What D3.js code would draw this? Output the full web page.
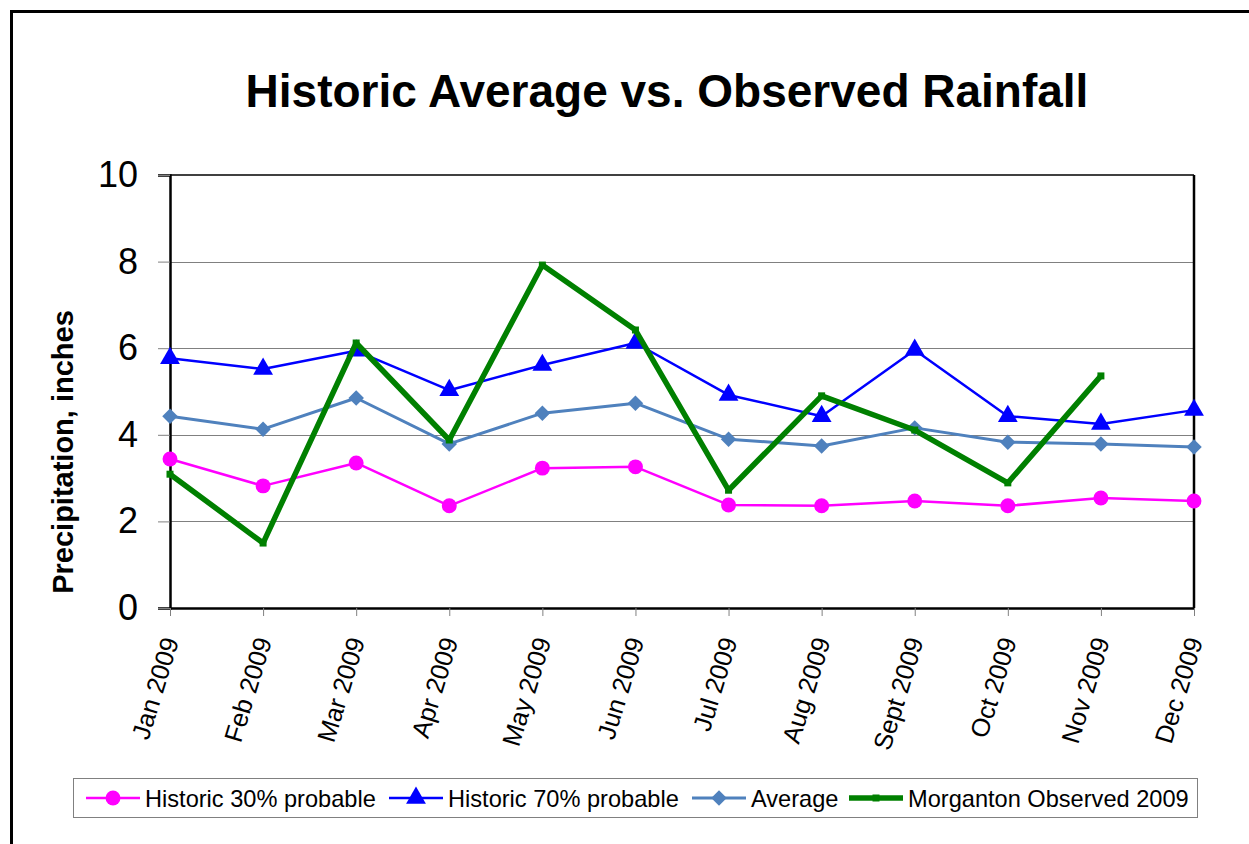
<!DOCTYPE html>
<html>
<head>
<meta charset="utf-8">
<script src="https://cdn.jsdelivr.net/npm/d3@7"></script>
<style>
	body { margin: 0; background: #fff; }
	text { font-family: Arial, "Liberation Sans", sans-serif; }
</style>
</head>
<body>
<script>

let width = 1249;
let height = 844;

let margins = {
	top: 175,
	right: 55,
	bottom: 236,
	left: 170
};

// Data
let months = ["Jan 2009", "Feb 2009", "Mar 2009", "Apr 2009", "May 2009", "Jun 2009",
	"Jul 2009", "Aug 2009", "Sept 2009", "Oct 2009", "Nov 2009", "Dec 2009"];
let historic30 = [3.44, 2.82, 3.35, 2.36, 3.23, 3.26, 2.38, 2.36, 2.47, 2.36, 2.54, 2.47];
let historic70 = [5.77, 5.52, 5.94, 5.03, 5.61, 6.12, 4.92, 4.43, 5.96, 4.43, 4.25, 4.57];
let average = [4.43, 4.13, 4.85, 3.79, 4.50, 4.73, 3.90, 3.74, 4.16, 3.83, 3.79, 3.72];
let observed = [3.09, 1.50, 6.12, 3.88, 7.92, 6.42, 2.72, 4.90, 4.11, 2.89, 5.36, null];
let yTicks = [0, 2, 4, 6, 8, 10];

let series = [
	{title: "Historic 30% probable", color: "#FF00FF", values: historic30, marker: "circle", lw: 2.5},
	{title: "Historic 70% probable", color: "#0000FF", values: historic70, marker: "triangle", lw: 2.5},
	{title: "Average", color: "#4F81BD", values: average, marker: "diamond", lw: 3},
	{title: "Morganton Observed 2009", color: "#008000", values: observed, marker: "square", lw: 5.5}
];

let xScale = d3.scalePoint()
	.domain(months)
	.range([margins.left, width - margins.right]);

let yScale = d3.scaleLinear()
	.domain([0, 10])
	.range([height - margins.bottom, margins.top]);

let svg = d3.select("body")
	.append("svg")
		.attr("width", width)
		.attr("height", height);

// Outer chart border (cut off at right and bottom)
svg.append("rect")
	.attr("x", 11.5)
	.attr("y", 11.5)
	.attr("width", 1300)
	.attr("height", 900)
	.style("fill", "#fff")
	.style("stroke", "#000")
	.style("stroke-width", 3);

// Title
svg.append("text")
	.attr("x", 667)
	.attr("y", 107)
	.attr("text-anchor", "middle")
	.style("font-size", "46px")
	.style("font-weight", "bold")
	.text("Historic Average vs. Observed Rainfall");

// Gridlines
svg.append("g")
	.selectAll("line")
	.data(yTicks.filter(d => d > 0 && d < 10))
	.enter().append("line")
		.attr("x1", margins.left)
		.attr("x2", width - margins.right)
		.attr("y1", d => Math.round(yScale(d)) + 0.5)
		.attr("y2", d => Math.round(yScale(d)) + 0.5)
		.style("stroke", "#808080")
		.style("stroke-width", 1);

// Plot frame top/right
svg.append("path")
	.attr("d", "M" + margins.left + "," + yScale(10) + "H" + (width - margins.right))
	.style("fill", "none")
	.style("stroke", "#000")
	.style("stroke-width", 1.5);
svg.append("path")
	.attr("d", "M" + (width - margins.right) + "," + yScale(10) + "V" + yScale(0))
	.style("fill", "none")
	.style("stroke", "#000")
	.style("stroke-width", 2.5);

// Y axis
let yAxis = d3.axisLeft(yScale).tickValues(yTicks).tickSize(12).tickPadding(20);
let gy = svg.append("g")
	.attr("class", "y axis")
	.attr("transform", "translate(" + margins.left + ",0)")
	.call(yAxis);
gy.select(".domain").style("stroke", "#000").style("stroke-width", 2.5);
gy.selectAll(".tick line").style("stroke", "#808080");
gy.selectAll(".tick text").style("font-size", "36px").style("fill", "#000");

// X axis
let xAxis = d3.axisBottom(xScale).tickSize(8).tickSizeOuter(0);
let gx = svg.append("g")
	.attr("class", "x axis")
	.attr("transform", "translate(0," + yScale(0) + ")")
	.call(xAxis);
gx.select(".domain").style("stroke", "#000").style("stroke-width", 2.5);
gx.selectAll(".tick line").style("stroke", "#808080");
gx.selectAll(".tick text")
	.style("font-size", "25.5px")
	.style("fill", "#000")
	.attr("text-anchor", "end")
	.attr("dy", "0.35em")
	.attr("transform", "translate(0,30) rotate(-73)")
	.attr("x", 0)
	.attr("y", 0);

// Y axis title
svg.append("text")
	.attr("transform", "translate(73,452) rotate(-90)")
	.attr("text-anchor", "middle")
	.style("font-size", "29px")
	.style("font-weight", "bold")
	.text("Precipitation, inches");

// Marker symbols
let symbolFor = {
	circle: d3.symbol().type(d3.symbolCircle).size(175),
	triangle: d3.symbol().type(d3.symbolTriangle).size(170),
	diamond: d3.symbol().type(d3.symbolSquare).size(120),
	square: d3.symbol().type(d3.symbolSquare).size(49)
};
let rotFor = {circle: 0, triangle: 0, diamond: 45, square: 0};

// Lines and markers
series.forEach((s) => {
	let pts = months.map((m, i) => ({m: m, v: s.values[i]})).filter(d => d.v !== null);
	let line = d3.line()
		.x(d => xScale(d.m))
		.y(d => yScale(d.v));

	svg.append("path")
		.datum(pts)
		.attr("d", line)
		.style("fill", "none")
		.style("stroke", s.color)
		.style("stroke-width", s.lw)
		.style("stroke-linejoin", "round");

	svg.append("g")
		.selectAll("path")
		.data(pts)
		.enter().append("path")
			.attr("d", symbolFor[s.marker])
			.attr("transform", d => "translate(" + xScale(d.m) + "," + yScale(d.v) + ") rotate(" + rotFor[s.marker] + ")")
			.style("fill", s.color);
});

// Legend
svg.append("rect")
	.attr("x", 73.5)
	.attr("y", 778.5)
	.attr("width", 1124)
	.attr("height", 39)
	.style("fill", "#fff")
	.style("stroke", "#808080")
	.style("stroke-width", 1);

let legendX = [86, 389, 692, 849];
let legend = svg.selectAll("g.legend")
	.data(series)
	.enter().append("g")
	.attr("class", "legend")
	.attr("transform", (d, i) => "translate(" + legendX[i] + ",798)");

legend.append("line")
	.attr("x1", 0)
	.attr("x2", 54)
	.style("stroke", d => d.color)
	.style("stroke-width", d => d.lw);

legend.append("path")
	.attr("d", d => symbolFor[d.marker]())
	.attr("transform", d => "translate(27,0) rotate(" + rotFor[d.marker] + ")")
	.style("fill", d => d.color);

legend.append("text")
	.attr("x", 59)
	.attr("dy", "0.36em")
	.style("font-size", "23.6px")
	.text(d => d.title);

</script>
</body>
</html>
